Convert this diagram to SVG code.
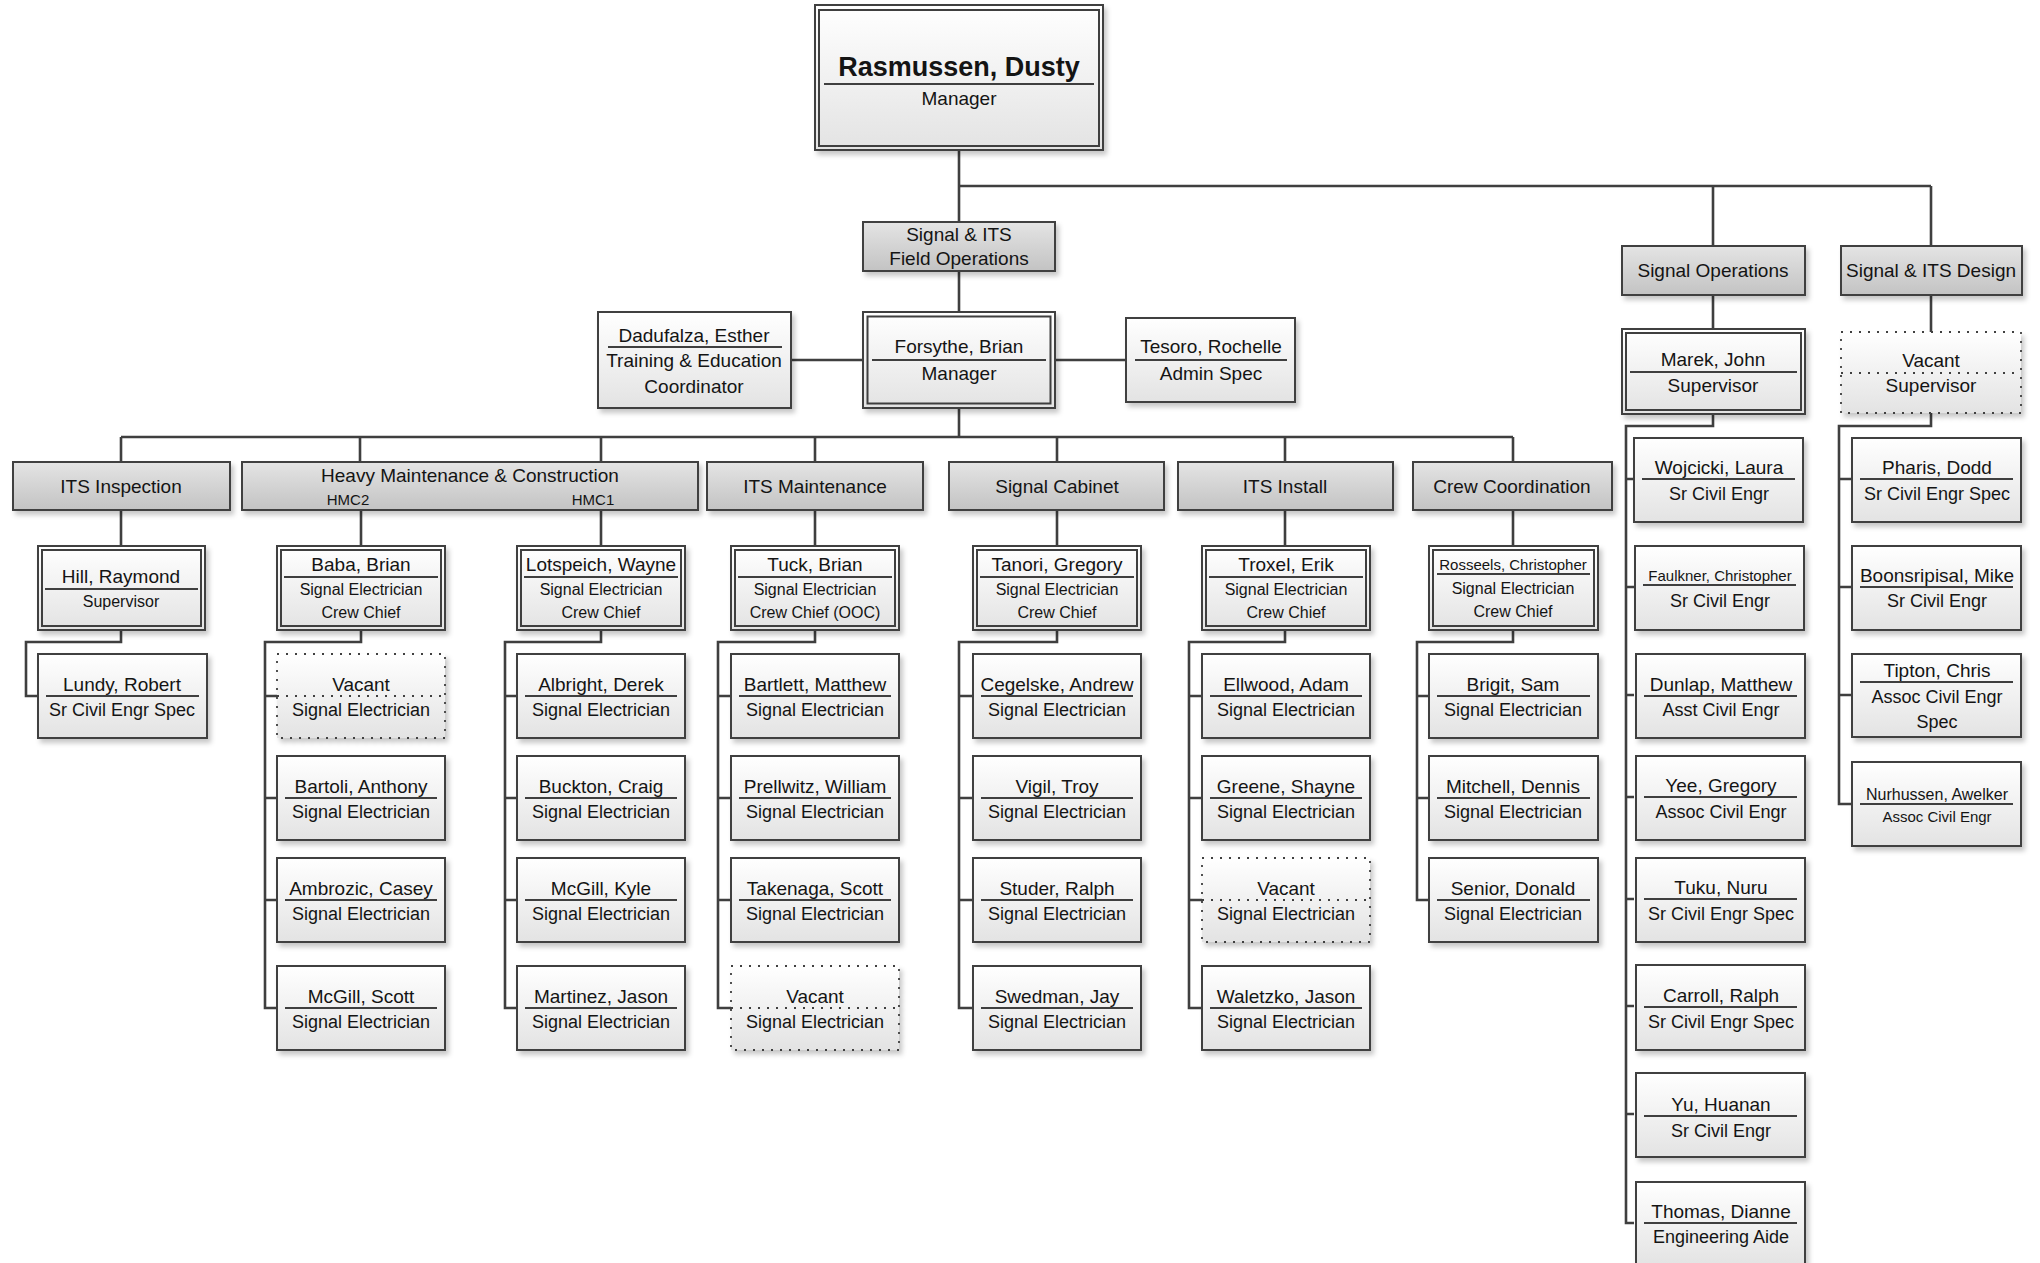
<svg xmlns="http://www.w3.org/2000/svg" width="2040" height="1263" viewBox="0 0 2040 1263">
<defs>
<linearGradient id="gb" x1="0" y1="0" x2="0" y2="1"><stop offset="0" stop-color="#ffffff"/><stop offset="1" stop-color="#e3e3e3"/></linearGradient>
<linearGradient id="gh" x1="0" y1="0" x2="0" y2="1"><stop offset="0" stop-color="#e4e4e4"/><stop offset="1" stop-color="#c3c3c3"/></linearGradient>
<filter id="sh" x="-10%" y="-10%" width="130%" height="140%"><feDropShadow dx="3" dy="4" stdDeviation="2.5" flood-color="#000" flood-opacity="0.22"/></filter>
<style>
.b{fill:url(#gb);stroke:#3f3f3f;stroke-width:2;filter:url(#sh)}
.h{fill:url(#gh);stroke:#3f3f3f;stroke-width:2;filter:url(#sh)}
.v{fill:url(#gb);stroke:#3f3f3f;stroke-width:1.8;stroke-dasharray:2 7;filter:url(#sh)}
.i{fill:none;stroke:#3f3f3f;stroke-width:2}
.u{stroke:#3f3f3f;stroke-width:1.8}
.ud{stroke:#3f3f3f;stroke-width:1.8;stroke-dasharray:2 7}
.c path{fill:none;stroke:#3f3f3f;stroke-width:2.6}
text{font-family:"Liberation Sans",Arial,sans-serif;fill:#141414;text-anchor:middle}
.n{font-size:19px}
.t{font-size:18px}
.s{font-size:16px}
.x{font-size:15px}
.hd{font-size:19px}
</style>
</defs>
<rect width="2040" height="1263" fill="#ffffff"/>

<g id="connectors" class="c">
<path d="M959 150V222"/>
<path d="M959 186H1931"/>
<path d="M1713 186V246"/>
<path d="M1931 186V246"/>
<path d="M959 271V312"/>
<path d="M791 360H863"/>
<path d="M1055 360H1126"/>
<path d="M959 408V437"/>
<path d="M121 437H1513"/>
<path d="M121 437V462M360 437V462M601 437V462M815 437V462M1057 437V462M1285 437V462M1513 437V462"/>
<path d="M121 510V546M361 510V546M601 510V546M815 510V546M1057 510V546M1285 510V546M1513 510V546"/>
<path d="M1713 295V329M1931 295V332"/>
<path d="M121 630V642H26V696H38"/>
<path d="M361 630V642H265V1008H277M265 696H277M265 798H277M265 900H277"/>
<path d="M601 630V642H505V1008H517M505 696H517M505 798H517M505 900H517"/>
<path d="M815 630V642H718V1008H731M718 696H731M718 798H731M718 900H731"/>
<path d="M1057 630V642H959V1008H973M959 696H973M959 798H973M959 900H973"/>
<path d="M1285 630V642H1189V1008H1202M1189 696H1202M1189 798H1202M1189 900H1202"/>
<path d="M1513 630V642H1417V900H1429M1417 696H1429M1417 798H1429"/>
<path d="M1713 414V426H1626V1223H1634M1626 479H1634M1626 587H1634M1626 695H1634M1626 797H1634M1626 899H1634M1626 1006H1634M1626 1114H1634"/>
<path d="M1931 413V426H1839V804H1852M1839 479H1852M1839 587H1852M1839 695H1852"/>
</g>

<!-- top -->
<g id="rasmussen">
<rect class="b" x="815" y="5" width="288" height="145"/>
<rect class="i" x="819" y="10" width="280" height="136"/>
<line class="u" x1="824" y1="84" x2="1094" y2="84"/>
<text x="959" y="76" style="font-size:27px;font-weight:bold">Rasmussen, Dusty</text>
<text class="n" x="959" y="105">Manager</text>
</g>
<g id="field-ops">
<rect class="h" x="863" y="222" width="192" height="49"/>
<text class="hd" x="959" y="241">Signal &amp; ITS</text>
<text class="hd" x="959" y="265">Field Operations</text>
</g>
<g id="forsythe">
<rect class="b" x="863" y="312" width="192" height="96"/>
<rect class="i" x="867.5" y="316.5" width="183" height="87"/>
<line class="u" x1="872" y1="360" x2="1046" y2="360"/>
<text class="n" x="959" y="353">Forsythe, Brian</text>
<text class="n" x="959" y="380">Manager</text>
</g>
<g id="dadufalza">
<rect class="b" x="598" y="312" width="193" height="96"/>
<line class="u" x1="608" y1="347" x2="782" y2="347"/>
<text class="n" x="694" y="342">Dadufalza, Esther</text>
<text class="n" x="694" y="367">Training &amp; Education</text>
<text class="n" x="694" y="393">Coordinator</text>
</g>
<g id="tesoro">
<rect class="b" x="1126" y="318" width="169" height="84"/>
<line class="u" x1="1135" y1="360" x2="1287" y2="360"/>
<text class="n" x="1211" y="353">Tesoro, Rochelle</text>
<text class="n" x="1211" y="380">Admin Spec</text>
</g>

<!-- headers -->
<g id="h-its-inspection"><rect class="h" x="13" y="462" width="217" height="48"/><text class="hd" x="121" y="493">ITS Inspection</text></g>
<g id="h-hmc"><rect class="h" x="242" y="462" width="456" height="48"/><text class="hd" x="470" y="482">Heavy Maintenance &amp; Construction</text><text class="x" x="348" y="505">HMC2</text><text class="x" x="593" y="505">HMC1</text></g>
<g id="h-its-maintenance"><rect class="h" x="707" y="462" width="216" height="48"/><text class="hd" x="815" y="493">ITS Maintenance</text></g>
<g id="h-signal-cabinet"><rect class="h" x="949" y="462" width="215" height="48"/><text class="hd" x="1057" y="493">Signal Cabinet</text></g>
<g id="h-its-install"><rect class="h" x="1178" y="462" width="215" height="48"/><text class="hd" x="1285" y="493">ITS Install</text></g>
<g id="h-crew-coordination"><rect class="h" x="1413" y="462" width="199" height="48"/><text class="hd" x="1512" y="493">Crew Coordination</text></g>
<g id="h-signal-operations"><rect class="h" x="1622" y="246" width="183" height="49"/><text class="hd" x="1713" y="277">Signal Operations</text></g>
<g id="h-signal-its-design"><rect class="h" x="1841" y="246" width="181" height="49"/><text class="hd" x="1931" y="277">Signal &amp; ITS Design</text></g>

<!-- supervisors -->
<g id="hill"><rect class="b" x="38" y="546" width="167" height="84"/><rect class="i" x="42" y="550" width="159" height="76"/><line class="u" x1="45" y1="589" x2="198" y2="589"/><text class="n" x="121" y="583">Hill, Raymond</text><text class="s" x="121" y="607">Supervisor</text></g>
<g id="baba"><rect class="b" x="277" y="546" width="168" height="84"/><rect class="i" x="281" y="550" width="160" height="76"/><line class="u" x1="284" y1="577" x2="438" y2="577"/><text class="n" x="361" y="571">Baba, Brian</text><text class="s" x="361" y="595">Signal Electrician</text><text class="s" x="361" y="618">Crew Chief</text></g>
<g id="lotspeich"><rect class="b" x="517" y="546" width="168" height="84"/><rect class="i" x="521" y="550" width="160" height="76"/><line class="u" x1="524" y1="577" x2="678" y2="577"/><text class="n" x="601" y="571">Lotspeich, Wayne</text><text class="s" x="601" y="595">Signal Electrician</text><text class="s" x="601" y="618">Crew Chief</text></g>
<g id="tuck"><rect class="b" x="731" y="546" width="168" height="84"/><rect class="i" x="735" y="550" width="160" height="76"/><line class="u" x1="738" y1="577" x2="892" y2="577"/><text class="n" x="815" y="571">Tuck, Brian</text><text class="s" x="815" y="595">Signal Electrician</text><text class="s" x="815" y="618">Crew Chief (OOC)</text></g>
<g id="tanori"><rect class="b" x="973" y="546" width="168" height="84"/><rect class="i" x="977" y="550" width="160" height="76"/><line class="u" x1="980" y1="577" x2="1134" y2="577"/><text class="n" x="1057" y="571">Tanori, Gregory</text><text class="s" x="1057" y="595">Signal Electrician</text><text class="s" x="1057" y="618">Crew Chief</text></g>
<g id="troxel"><rect class="b" x="1202" y="546" width="168" height="84"/><rect class="i" x="1206" y="550" width="160" height="76"/><line class="u" x1="1209" y1="577" x2="1363" y2="577"/><text class="n" x="1286" y="571">Troxel, Erik</text><text class="s" x="1286" y="595">Signal Electrician</text><text class="s" x="1286" y="618">Crew Chief</text></g>
<g id="rosseels"><rect class="b" x="1429" y="546" width="169" height="84"/><rect class="i" x="1433" y="550" width="161" height="76"/><line class="u" x1="1437" y1="574" x2="1590" y2="574"/><text class="x" x="1513" y="570">Rosseels, Christopher</text><text class="s" x="1513" y="594">Signal Electrician</text><text class="s" x="1513" y="617">Crew Chief</text></g>
<g id="marek"><rect class="b" x="1622" y="329" width="183" height="85"/><rect class="i" x="1626" y="333" width="175" height="77"/><line class="u" x1="1630" y1="372" x2="1797" y2="372"/><text class="n" x="1713" y="366">Marek, John</text><text class="n" x="1713" y="392">Supervisor</text></g>
<g id="vacant-design-sup"><rect class="v" x="1841" y="332" width="180" height="81"/><line class="ud" x1="1841" y1="373" x2="2021" y2="373"/><text class="n" x="1931" y="367">Vacant</text><text class="n" x="1931" y="392">Supervisor</text></g>

<!-- ITS Inspection staff -->
<g id="lundy"><rect class="b" x="38" y="654" width="169" height="84"/><line class="u" x1="46" y1="696" x2="199" y2="696"/><text class="n" x="122" y="691">Lundy, Robert</text><text class="t" x="122" y="716">Sr Civil Engr Spec</text></g>

<!-- HMC2 staff -->
<g id="vacant-hmc2"><rect class="v" x="277" y="654" width="168" height="84"/><line class="ud" x1="277" y1="696" x2="445" y2="696"/><text class="n" x="361" y="691">Vacant</text><text class="t" x="361" y="716">Signal Electrician</text></g>
<g id="bartoli"><rect class="b" x="277" y="756" width="168" height="84"/><line class="u" x1="285" y1="798" x2="437" y2="798"/><text class="n" x="361" y="793">Bartoli, Anthony</text><text class="t" x="361" y="818">Signal Electrician</text></g>
<g id="ambrozic"><rect class="b" x="277" y="858" width="168" height="84"/><line class="u" x1="285" y1="900" x2="437" y2="900"/><text class="n" x="361" y="895">Ambrozic, Casey</text><text class="t" x="361" y="920">Signal Electrician</text></g>
<g id="mcgill-scott"><rect class="b" x="277" y="966" width="168" height="84"/><line class="u" x1="285" y1="1008" x2="437" y2="1008"/><text class="n" x="361" y="1003">McGill, Scott</text><text class="t" x="361" y="1028">Signal Electrician</text></g>

<!-- HMC1 staff -->
<g id="albright"><rect class="b" x="517" y="654" width="168" height="84"/><line class="u" x1="525" y1="696" x2="677" y2="696"/><text class="n" x="601" y="691">Albright, Derek</text><text class="t" x="601" y="716">Signal Electrician</text></g>
<g id="buckton"><rect class="b" x="517" y="756" width="168" height="84"/><line class="u" x1="525" y1="798" x2="677" y2="798"/><text class="n" x="601" y="793">Buckton, Craig</text><text class="t" x="601" y="818">Signal Electrician</text></g>
<g id="mcgill-kyle"><rect class="b" x="517" y="858" width="168" height="84"/><line class="u" x1="525" y1="900" x2="677" y2="900"/><text class="n" x="601" y="895">McGill, Kyle</text><text class="t" x="601" y="920">Signal Electrician</text></g>
<g id="martinez"><rect class="b" x="517" y="966" width="168" height="84"/><line class="u" x1="525" y1="1008" x2="677" y2="1008"/><text class="n" x="601" y="1003">Martinez, Jason</text><text class="t" x="601" y="1028">Signal Electrician</text></g>

<!-- ITS Maintenance staff -->
<g id="bartlett"><rect class="b" x="731" y="654" width="168" height="84"/><line class="u" x1="739" y1="696" x2="891" y2="696"/><text class="n" x="815" y="691">Bartlett, Matthew</text><text class="t" x="815" y="716">Signal Electrician</text></g>
<g id="prellwitz"><rect class="b" x="731" y="756" width="168" height="84"/><line class="u" x1="739" y1="798" x2="891" y2="798"/><text class="n" x="815" y="793">Prellwitz, William</text><text class="t" x="815" y="818">Signal Electrician</text></g>
<g id="takenaga"><rect class="b" x="731" y="858" width="168" height="84"/><line class="u" x1="739" y1="900" x2="891" y2="900"/><text class="n" x="815" y="895">Takenaga, Scott</text><text class="t" x="815" y="920">Signal Electrician</text></g>
<g id="vacant-its-maint"><rect class="v" x="731" y="966" width="168" height="84"/><line class="ud" x1="731" y1="1008" x2="899" y2="1008"/><text class="n" x="815" y="1003">Vacant</text><text class="t" x="815" y="1028">Signal Electrician</text></g>

<!-- Signal Cabinet staff -->
<g id="cegelske"><rect class="b" x="973" y="654" width="168" height="84"/><line class="u" x1="981" y1="696" x2="1133" y2="696"/><text class="n" x="1057" y="691">Cegelske, Andrew</text><text class="t" x="1057" y="716">Signal Electrician</text></g>
<g id="vigil"><rect class="b" x="973" y="756" width="168" height="84"/><line class="u" x1="981" y1="798" x2="1133" y2="798"/><text class="n" x="1057" y="793">Vigil, Troy</text><text class="t" x="1057" y="818">Signal Electrician</text></g>
<g id="studer"><rect class="b" x="973" y="858" width="168" height="84"/><line class="u" x1="981" y1="900" x2="1133" y2="900"/><text class="n" x="1057" y="895">Studer, Ralph</text><text class="t" x="1057" y="920">Signal Electrician</text></g>
<g id="swedman"><rect class="b" x="973" y="966" width="168" height="84"/><line class="u" x1="981" y1="1008" x2="1133" y2="1008"/><text class="n" x="1057" y="1003">Swedman, Jay</text><text class="t" x="1057" y="1028">Signal Electrician</text></g>

<!-- ITS Install staff -->
<g id="ellwood"><rect class="b" x="1202" y="654" width="168" height="84"/><line class="u" x1="1210" y1="696" x2="1362" y2="696"/><text class="n" x="1286" y="691">Ellwood, Adam</text><text class="t" x="1286" y="716">Signal Electrician</text></g>
<g id="greene"><rect class="b" x="1202" y="756" width="168" height="84"/><line class="u" x1="1210" y1="798" x2="1362" y2="798"/><text class="n" x="1286" y="793">Greene, Shayne</text><text class="t" x="1286" y="818">Signal Electrician</text></g>
<g id="vacant-its-install"><rect class="v" x="1202" y="858" width="168" height="84"/><line class="ud" x1="1202" y1="900" x2="1370" y2="900"/><text class="n" x="1286" y="895">Vacant</text><text class="t" x="1286" y="920">Signal Electrician</text></g>
<g id="waletzko"><rect class="b" x="1202" y="966" width="168" height="84"/><line class="u" x1="1210" y1="1008" x2="1362" y2="1008"/><text class="n" x="1286" y="1003">Waletzko, Jason</text><text class="t" x="1286" y="1028">Signal Electrician</text></g>

<!-- Crew Coordination staff -->
<g id="brigit"><rect class="b" x="1429" y="654" width="169" height="84"/><line class="u" x1="1437" y1="696" x2="1590" y2="696"/><text class="n" x="1513" y="691">Brigit, Sam</text><text class="t" x="1513" y="716">Signal Electrician</text></g>
<g id="mitchell"><rect class="b" x="1429" y="756" width="169" height="84"/><line class="u" x1="1437" y1="798" x2="1590" y2="798"/><text class="n" x="1513" y="793">Mitchell, Dennis</text><text class="t" x="1513" y="818">Signal Electrician</text></g>
<g id="senior"><rect class="b" x="1429" y="858" width="169" height="84"/><line class="u" x1="1437" y1="900" x2="1590" y2="900"/><text class="n" x="1513" y="895">Senior, Donald</text><text class="t" x="1513" y="920">Signal Electrician</text></g>

<!-- Signal Operations staff -->
<g id="wojcicki"><rect class="b" x="1634" y="438" width="169" height="84"/><line class="u" x1="1642" y1="479" x2="1795" y2="479"/><text class="n" x="1719" y="474">Wojcicki, Laura</text><text class="t" x="1719" y="500">Sr Civil Engr</text></g>
<g id="faulkner"><rect class="b" x="1635" y="546" width="169" height="84"/><line class="u" x1="1643" y1="585" x2="1796" y2="585"/><text class="x" x="1720" y="581">Faulkner, Christopher</text><text class="t" x="1720" y="607">Sr Civil Engr</text></g>
<g id="dunlap"><rect class="b" x="1636" y="654" width="169" height="84"/><line class="u" x1="1644" y1="696" x2="1797" y2="696"/><text class="n" x="1721" y="691">Dunlap, Matthew</text><text class="t" x="1721" y="716">Asst Civil Engr</text></g>
<g id="yee"><rect class="b" x="1636" y="756" width="169" height="84"/><line class="u" x1="1644" y1="797" x2="1797" y2="797"/><text class="n" x="1721" y="792">Yee, Gregory</text><text class="t" x="1721" y="818">Assoc Civil Engr</text></g>
<g id="tuku"><rect class="b" x="1636" y="858" width="169" height="84"/><line class="u" x1="1644" y1="899" x2="1797" y2="899"/><text class="n" x="1721" y="894">Tuku, Nuru</text><text class="t" x="1721" y="920">Sr Civil Engr Spec</text></g>
<g id="carroll"><rect class="b" x="1636" y="965" width="169" height="85"/><line class="u" x1="1644" y1="1007" x2="1797" y2="1007"/><text class="n" x="1721" y="1002">Carroll, Ralph</text><text class="t" x="1721" y="1028">Sr Civil Engr Spec</text></g>
<g id="yu"><rect class="b" x="1636" y="1073" width="169" height="84"/><line class="u" x1="1644" y1="1116" x2="1797" y2="1116"/><text class="n" x="1721" y="1111">Yu, Huanan</text><text class="t" x="1721" y="1137">Sr Civil Engr</text></g>
<g id="thomas"><rect class="b" x="1636" y="1182" width="169" height="84"/><line class="u" x1="1644" y1="1223" x2="1797" y2="1223"/><text class="n" x="1721" y="1218">Thomas, Dianne</text><text class="t" x="1721" y="1243">Engineering Aide</text></g>

<!-- Design staff -->
<g id="pharis"><rect class="b" x="1852" y="438" width="169" height="84"/><line class="u" x1="1860" y1="479" x2="2013" y2="479"/><text class="n" x="1937" y="474">Pharis, Dodd</text><text class="t" x="1937" y="500">Sr Civil Engr Spec</text></g>
<g id="boonsripisal"><rect class="b" x="1852" y="546" width="169" height="84"/><line class="u" x1="1860" y1="587" x2="2013" y2="587"/><text class="n" x="1937" y="582">Boonsripisal, Mike</text><text class="t" x="1937" y="607">Sr Civil Engr</text></g>
<g id="tipton"><rect class="b" x="1852" y="654" width="169" height="83"/><line class="u" x1="1860" y1="682" x2="2013" y2="682"/><text class="n" x="1937" y="677">Tipton, Chris</text><text class="t" x="1937" y="703">Assoc Civil Engr</text><text class="t" x="1937" y="728">Spec</text></g>
<g id="nurhussen"><rect class="b" x="1852" y="762" width="169" height="84"/><line class="u" x1="1860" y1="804" x2="2013" y2="804"/><text class="s" x="1937" y="800">Nurhussen, Awelker</text><text class="x" x="1937" y="822">Assoc Civil Engr</text></g>
</svg>
